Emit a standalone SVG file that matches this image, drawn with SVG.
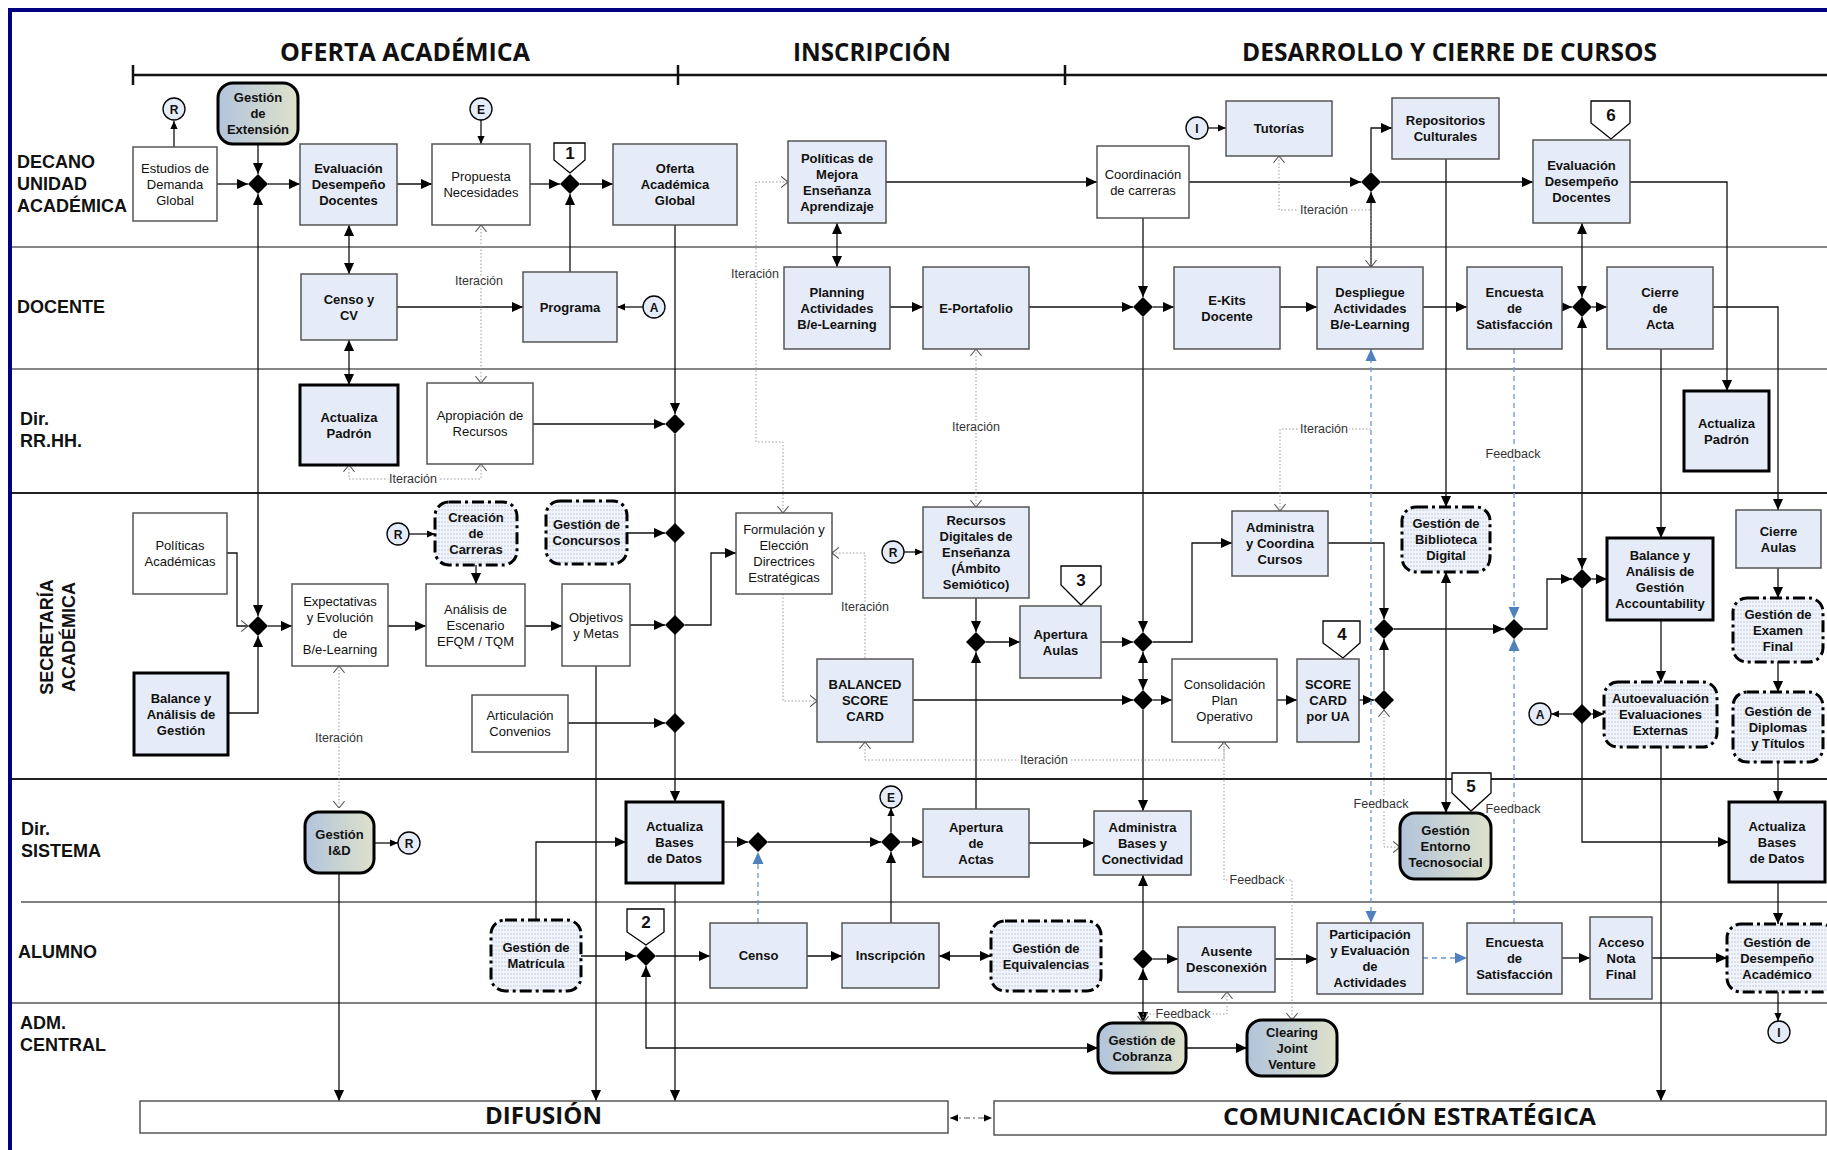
<svg xmlns="http://www.w3.org/2000/svg" width="1827" height="1150" viewBox="0 0 1827 1150">
<style>
.t{font-family:"Liberation Sans",Arial,sans-serif;font-size:13px;text-anchor:middle;fill:#111}
.b{font-weight:bold}
.lane{font-family:"Liberation Sans",Arial,sans-serif;font-size:18px;font-weight:bold;fill:#111}
.hd{font-family:"Open Sans","Liberation Sans",sans-serif;font-weight:bold;fill:#111}
.bx{fill:#E6ECF7;stroke:#555;stroke-width:1.5}
.wb{fill:#fff;stroke:#555;stroke-width:1.5}
.tk{fill:#E6ECF7;stroke:#000;stroke-width:3}
.dd{fill:url(#st);stroke:#000;stroke-width:3;stroke-dasharray:12 4 3 4}
.gr{fill:url(#gd);stroke:#000;stroke-width:3}
.ln{fill:none;stroke:#111;stroke-width:1.3}
.ae{marker-end:url(#ar)}
.as{marker-start:url(#ar)}
.se{marker-end:url(#sm)}
.bl{fill:none;stroke:#6D95D0;stroke-width:1.3;stroke-dasharray:5 4}
.be{marker-end:url(#ab)}
.bs{marker-start:url(#ab)}
.dt{fill:none;stroke:#9a9a9a;stroke-width:1;stroke-dasharray:1.5 2}
.oe{marker-end:url(#oc)}
.os{marker-start:url(#oc)}
.lb{font-family:"Liberation Sans",Arial,sans-serif;font-size:12.5px;text-anchor:middle;fill:#333;paint-order:stroke;stroke:#fff;stroke-width:4px}
.cir{fill:#E6ECF7;stroke:#000;stroke-width:1.3}
.ct{font-family:"Liberation Sans",Arial,sans-serif;font-size:12px;font-weight:bold;text-anchor:middle;fill:#111}
.co{fill:#fff;stroke:#000;stroke-width:1.3}
.cn{font-family:"Liberation Sans",Arial,sans-serif;font-size:17px;font-weight:bold;text-anchor:middle;fill:#111}
</style>
<defs>
<linearGradient id="gd" x1="0" y1="0" x2="1" y2="0">
<stop offset="0" stop-color="#B2C4DC"/>
<stop offset="1" stop-color="#DEE1CA"/>
</linearGradient>
<pattern id="st" width="6" height="4" patternUnits="userSpaceOnUse">
<rect width="6" height="4" fill="#F0F4FA"/>
<line x1="0" y1="2" x2="6" y2="2" stroke="#C3CEE2" stroke-width="1" stroke-dasharray="2 1"/>
</pattern>
<marker id="ar" viewBox="0 0 12 12" refX="12" refY="6" markerWidth="11" markerHeight="11" markerUnits="userSpaceOnUse" orient="auto-start-reverse">
<path d="M0,0.5 L12,6 L0,11.5 z" fill="#000"/>
</marker>
<marker id="sm" viewBox="0 0 10 10" refX="10" refY="5" markerWidth="8" markerHeight="8" markerUnits="userSpaceOnUse" orient="auto-start-reverse">
<path d="M0,0.5 L10,5 L0,9.5 z" fill="#000"/>
</marker>
<marker id="ab" viewBox="0 0 12 12" refX="12" refY="6" markerWidth="12" markerHeight="12" markerUnits="userSpaceOnUse" orient="auto-start-reverse">
<path d="M0,0.5 L12,6 L0,11.5 z" fill="#4F81BD"/>
</marker>
<marker id="oc" viewBox="0 0 8 14" refX="8" refY="7" markerWidth="7" markerHeight="12" markerUnits="userSpaceOnUse" orient="auto-start-reverse">
<path d="M0,0.5 L8,7 L0,13.5" fill="none" stroke="#555" stroke-width="1.2"/>
</marker>
<path id="dm" d="M0,-10 L10,0 L0,10 L-10,0 z" fill="#000"/>
</defs>
<rect width="1827" height="1150" fill="#fff"/>

<g id="frame">
<path d="M10,1150 V10 H1827" fill="none" stroke="#000080" stroke-width="4"/>
<path d="M12,247 H1827 M12,369 H1827" stroke="#111" stroke-width="1.2"/>
<path d="M12,493 H1827 M12,779 H1827" stroke="#222" stroke-width="2"/>
<path d="M21,902 H1827 M12,1003 H1827" stroke="#555" stroke-width="1.5"/>
<path d="M133,75 H1827 M133,65 V85 M678,65 V85 M1065,65 V85" stroke="#111" stroke-width="2.5" fill="none"/>
<text class="hd" x="280" y="61" font-size="25" textLength="250" lengthAdjust="spacingAndGlyphs">OFERTA ACADÉMICA</text>
<text class="hd" x="793" y="61" font-size="25" textLength="158" lengthAdjust="spacingAndGlyphs">INSCRIPCIÓN</text>
<text class="hd" x="1242" y="61" font-size="25" textLength="415" lengthAdjust="spacingAndGlyphs">DESARROLLO Y CIERRE DE CURSOS</text>
</g>

<g id="lanes">
<text class="lane" x="17" y="168">DECANO</text>
<text class="lane" x="17" y="190">UNIDAD</text>
<text class="lane" x="17" y="212">ACADÉMICA</text>
<text class="lane" x="17" y="313">DOCENTE</text>
<text class="lane" x="20" y="425">Dir.</text>
<text class="lane" x="20" y="447">RR.HH.</text>
<text class="lane" transform="translate(53,637) rotate(-90)" text-anchor="middle">SECRETARÍA</text>
<text class="lane" transform="translate(75,637) rotate(-90)" text-anchor="middle">ACADÉMICA</text>
<text class="lane" x="21" y="835">Dir.</text>
<text class="lane" x="21" y="857">SISTEMA</text>
<text class="lane" x="18" y="958">ALUMNO</text>
<text class="lane" x="20" y="1029">ADM.</text>
<text class="lane" x="20" y="1051">CENTRAL</text>
</g>

<g id="connectors">
<path class="ln se" d="M174,147 V121"/>
<path class="ln ae" d="M217,184 H248"/>
<path class="ln ae" d="M258,144 V174"/>
<path class="ln ae" d="M268,184 H300"/>
<path class="ln ae" d="M397,184 H432"/>
<path class="ln se" d="M481,120 V144"/>
<path class="ln ae" d="M530,184 H560"/>
<path class="ln ae" d="M580,184 H613"/>
<path class="ln ae" d="M570,272 V194"/>
<path class="ln ae as" d="M349,225 V274"/>
<path class="ln ae as" d="M349,340 V385"/>
<path class="ln ae" d="M397,307 H523"/>
<path class="ln se" d="M643,307 H617"/>
<path class="ln ae" d="M675,225 V414"/>
<path class="ln ae" d="M533,424 H665"/>
<path class="ln ae" d="M675,434 V802"/>
<path class="ln ae as" d="M837,223 V267"/>
<path class="ln ae" d="M886,182 H1097"/>
<path class="ln ae" d="M1189,182 H1361"/>
<path class="ln se" d="M1208,128 H1226"/>
<path class="ln ae" d="M1371,172 V128 H1392"/>
<path class="ln ae" d="M1381,182 H1533"/>
<path class="ln ae" d="M1371,267 V192"/>
<path class="ln ae" d="M1630,182 H1727 V391"/>
<path class="ln ae" d="M890,307 H923"/>
<path class="ln ae" d="M1029,307 H1133"/>
<path class="ln ae" d="M1143,218 V297"/>
<path class="ln ae" d="M1153,307 H1174"/>
<path class="ln ae" d="M1280,307 H1317"/>
<path class="ln ae" d="M1423,307 H1467"/>
<path class="ln ae" d="M1562,307 H1572"/>
<path class="ln ae" d="M1592,307 H1607"/>
<path class="ln ae as" d="M1582,223 V297"/>
<path class="ln ae as" d="M1582,317 V569"/>
<path class="ln ae" d="M1582,589 V842 H1729"/>
<path class="ln ae" d="M1661,349 V538"/>
<path class="ln ae" d="M1713,307 H1778 V510"/>
<path class="ln ae" d="M1446,159 V507"/>
<path class="ln ae as" d="M1446,572 V813"/>
<path class="ln ae" d="M1143,317 V632"/>
<path class="ln ae as" d="M258,194 V616"/>
<path class="ln oe" d="M227,553 H237 V626 H248"/>
<path class="ln ae" d="M228,713 H258 V636"/>
<path class="ln ae" d="M268,626 H292"/>
<path class="ln ae" d="M388,626 H426"/>
<path class="ln se" d="M409,534 H435"/>
<path class="ln ae" d="M476,565 V584"/>
<path class="ln ae" d="M627,533 H665"/>
<path class="ln ae" d="M525,626 H562"/>
<path class="ln ae" d="M630,625 H665"/>
<path class="ln ae" d="M685,625 H711 V553 H736"/>
<path class="ln ae" d="M568,723 H665"/>
<path class="ln ae" d="M596,666 V1101"/>
<path class="ln se" d="M904,552 H923"/>
<path class="ln ae" d="M976,598 V632"/>
<path class="ln ae" d="M986,642 H1020"/>
<path class="ln ae" d="M1101,642 H1133"/>
<path class="ln ae" d="M1153,642 H1192 V543 H1232"/>
<path class="ln ae as" d="M1143,652 V690"/>
<path class="ln ae" d="M913,700 H1133"/>
<path class="ln ae" d="M1153,700 H1172"/>
<path class="ln ae" d="M1277,700 H1297"/>
<path class="ln ae" d="M1359,700 H1374"/>
<path class="ln ae" d="M1328,543 H1384 V619"/>
<path class="ln ae" d="M1384,690 V639"/>
<path class="ln ae" d="M1394,629 H1504"/>
<path class="ln ae" d="M1524,629 H1547 V579 H1572"/>
<path class="ln ae" d="M1592,579 H1607"/>
<path class="ln ae" d="M1661,620 V682"/>
<path class="ln se" d="M1572,714 H1551"/>
<path class="ln ae" d="M1592,714 H1604"/>
<path class="ln ae" d="M1778,568 V598"/>
<path class="ln ae" d="M1778,662 V692"/>
<path class="ln ae" d="M1778,762 V802"/>
<path class="ln ae" d="M1778,882 V924"/>
<path class="ln se" d="M1778,992 V1021"/>
<path class="ln ae" d="M1661,747 V1101"/>
<path class="ln ae" d="M976,809 V652"/>
<path class="ln ae" d="M1143,710 V811"/>
<path class="ln se" d="M374,843 H398"/>
<path class="ln ae" d="M339,873 V1101"/>
<path class="ln ae" d="M675,883 V1101"/>
<path class="ln ae" d="M536,920 V842 H626"/>
<path class="ln ae" d="M723,842 H748"/>
<path class="ln ae" d="M768,842 H881"/>
<path class="ln se" d="M891,832 V808"/>
<path class="ln ae" d="M891,923 V852"/>
<path class="ln ae" d="M901,842 H923"/>
<path class="ln ae" d="M1029,843 H1094"/>
<path class="ln ae" d="M1143,949 V875"/>
<path class="ln ae as" d="M1143,969 V1023"/>
<path class="ln ae" d="M581,956 H636"/>
<path class="ln ae" d="M656,956 H710"/>
<path class="ln ae" d="M807,956 H842"/>
<path class="ln ae as" d="M939,956 H991"/>
<path class="ln ae" d="M1153,959 H1178"/>
<path class="ln ae" d="M1275,959 H1317"/>
<path class="ln ae" d="M1562,958 H1590"/>
<path class="ln ae" d="M1652,958 H1727"/>
<path class="ln ae as" d="M646,966 V1048 H1098"/>
<path class="ln ae" d="M1186,1048 H1247"/>
<path d="M950,1118 H992" fill="none" stroke="#555" stroke-width="1.2" stroke-dasharray="6 3 2 3" marker-start="url(#sm)" marker-end="url(#sm)"/>

<path class="bl be" d="M758,923 V852"/>
<path class="bl be bs" d="M1371,349 V923"/>
<path class="bl be" d="M1514,349 V619"/>
<path class="bl be" d="M1514,923 V639"/>
<path class="bl be" d="M1423,958 H1467"/>

<path class="dt oe os" d="M481,225 V383"/>
<path class="dt oe os" d="M349,465 V479 H481 V464"/>
<path class="dt oe os" d="M788,182 H756 V442 H783 V513"/>
<path class="dt oe os" d="M976,349 V507"/>
<path class="dt oe os" d="M1279,156 V210 H1371 V267"/>
<path class="dt os" d="M1280,511 V429 H1371"/>
<path class="dt os" d="M832,553 H865 V659"/>
<path class="dt oe" d="M783,594 V701 H817"/>
<path class="dt oe os" d="M865,742 V760 H1224 V742"/>
<path class="dt oe" d="M1224,742 V880 H1292 V1020"/>
<path class="dt oe os" d="M339,666 V808"/>
<path class="dt oe os" d="M1384,710 V847 H1400"/>
<path class="dt oe os" d="M1227,992 V1014 H1143 V1023"/>
</g>

<g id="gateways">
<use href="#dm" x="258" y="184"/>
<use href="#dm" x="570" y="184"/>
<use href="#dm" x="1371" y="182"/>
<use href="#dm" x="1143" y="307"/>
<use href="#dm" x="1582" y="307"/>
<use href="#dm" x="675" y="424"/>
<use href="#dm" x="258" y="626"/>
<use href="#dm" x="675" y="533"/>
<use href="#dm" x="675" y="625"/>
<use href="#dm" x="675" y="723"/>
<use href="#dm" x="976" y="642"/>
<use href="#dm" x="1143" y="642"/>
<use href="#dm" x="1143" y="700"/>
<use href="#dm" x="1384" y="629"/>
<use href="#dm" x="1384" y="700"/>
<use href="#dm" x="1514" y="629"/>
<use href="#dm" x="1582" y="579"/>
<use href="#dm" x="1582" y="714"/>
<use href="#dm" x="758" y="842"/>
<use href="#dm" x="891" y="842"/>
<use href="#dm" x="646" y="956"/>
<use href="#dm" x="1143" y="959"/>
</g>

<g id="n_estudios"><rect class="wb" x="133" y="147" width="84" height="74"/><text class="t" x="175" y="172.5">Estudios de</text><text class="t" x="175" y="188.5">Demanda</text><text class="t" x="175" y="204.5">Global</text></g>
<g id="n_gext"><rect class="gr" x="218" y="83" width="80" height="61" rx="15"/><text class="t b" x="258" y="102">Gestión</text><text class="t b" x="258" y="118">de</text><text class="t b" x="258" y="134">Extensión</text></g>
<g id="n_evald1"><rect class="bx" x="300" y="144" width="97" height="81"/><text class="t b" x="348.5" y="173">Evaluación</text><text class="t b" x="348.5" y="189">Desempeño</text><text class="t b" x="348.5" y="205">Docentes</text></g>
<g id="n_propuesta"><rect class="wb" x="432" y="144" width="98" height="81"/><text class="t" x="481" y="181">Propuesta</text><text class="t" x="481" y="197">Necesidades</text></g>
<g id="n_oferta"><rect class="bx" x="613" y="144" width="124" height="81"/><text class="t b" x="675" y="173">Oferta</text><text class="t b" x="675" y="189">Académica</text><text class="t b" x="675" y="205">Global</text></g>
<g id="n_polmejora"><rect class="bx" x="788" y="141" width="98" height="82"/><text class="t b" x="837" y="162.5">Políticas de</text><text class="t b" x="837" y="178.5">Mejora</text><text class="t b" x="837" y="194.5">Enseñanza</text><text class="t b" x="837" y="210.5">Aprendizaje</text></g>
<g id="n_coord"><rect class="wb" x="1097" y="146" width="92" height="72"/><text class="t" x="1143" y="178.5">Coordinación</text><text class="t" x="1143" y="194.5">de carreras</text></g>
<g id="n_tutorias"><rect class="bx" x="1226" y="101" width="106" height="55"/><text class="t b" x="1279" y="133">Tutorías</text></g>
<g id="n_repos"><rect class="bx" x="1392" y="98" width="107" height="61"/><text class="t b" x="1445.5" y="125">Repositorios</text><text class="t b" x="1445.5" y="141">Culturales</text></g>
<g id="n_evald2"><rect class="bx" x="1533" y="140" width="97" height="83"/><text class="t b" x="1581.5" y="170">Evaluación</text><text class="t b" x="1581.5" y="186">Desempeño</text><text class="t b" x="1581.5" y="202">Docentes</text></g>

<g id="n_censocv"><rect class="bx" x="301" y="274" width="96" height="66"/><text class="t b" x="349" y="303.5">Censo y</text><text class="t b" x="349" y="319.5">CV</text></g>
<g id="n_programa"><rect class="bx" x="523" y="272" width="94" height="70"/><text class="t b" x="570" y="311.5">Programa</text></g>
<g id="n_planning"><rect class="bx" x="784" y="267" width="106" height="82"/><text class="t b" x="837" y="296.5">Planning</text><text class="t b" x="837" y="312.5">Actividades</text><text class="t b" x="837" y="328.5">B/e-Learning</text></g>
<g id="n_eport"><rect class="bx" x="923" y="267" width="106" height="82"/><text class="t b" x="976" y="312.5">E-Portafolio</text></g>
<g id="n_ekits"><rect class="bx" x="1174" y="267" width="106" height="82"/><text class="t b" x="1227" y="304.5">E-Kits</text><text class="t b" x="1227" y="320.5">Docente</text></g>
<g id="n_despliegue"><rect class="bx" x="1317" y="267" width="106" height="82"/><text class="t b" x="1370" y="296.5">Despliegue</text><text class="t b" x="1370" y="312.5">Actividades</text><text class="t b" x="1370" y="328.5">B/e-Learning</text></g>
<g id="n_encuesta1"><rect class="bx" x="1467" y="267" width="95" height="82"/><text class="t b" x="1514.5" y="296.5">Encuesta</text><text class="t b" x="1514.5" y="312.5">de</text><text class="t b" x="1514.5" y="328.5">Satisfacción</text></g>
<g id="n_cierreacta"><rect class="bx" x="1607" y="267" width="106" height="82"/><text class="t b" x="1660" y="296.5">Cierre</text><text class="t b" x="1660" y="312.5">de</text><text class="t b" x="1660" y="328.5">Acta</text></g>

<g id="n_padron1"><rect class="tk" x="300" y="385" width="98" height="80"/><text class="t b" x="349" y="421.5">Actualiza</text><text class="t b" x="349" y="437.5">Padrón</text></g>
<g id="n_apropiacion"><rect class="wb" x="427" y="383" width="106" height="81"/><text class="t" x="480" y="420">Apropiación de</text><text class="t" x="480" y="436">Recursos</text></g>
<g id="n_padron2"><rect class="tk" x="1684" y="391" width="85" height="80"/><text class="t b" x="1726.5" y="427.5">Actualiza</text><text class="t b" x="1726.5" y="443.5">Padrón</text></g>

<g id="n_polacad"><rect class="wb" x="133" y="513" width="94" height="81"/><text class="t" x="180" y="550">Políticas</text><text class="t" x="180" y="566">Académicas</text></g>
<g id="n_balance1"><rect class="tk" x="134" y="673" width="94" height="82"/><text class="t b" x="181" y="702.5">Balance y</text><text class="t b" x="181" y="718.5">Análisis de</text><text class="t b" x="181" y="734.5">Gestión</text></g>
<g id="n_expect"><rect class="wb" x="292" y="584" width="96" height="82"/><text class="t" x="340" y="605.5">Expectativas</text><text class="t" x="340" y="621.5">y Evolución</text><text class="t" x="340" y="637.5">de</text><text class="t" x="340" y="653.5">B/e-Learning</text></g>
<g id="n_creacion"><rect class="dd" x="435" y="502" width="82" height="63" rx="14"/><text class="t b" x="476" y="522">Creación</text><text class="t b" x="476" y="538">de</text><text class="t b" x="476" y="554">Carreras</text></g>
<g id="n_analisis"><rect class="wb" x="426" y="584" width="99" height="82"/><text class="t" x="475.5" y="613.5">Análisis de</text><text class="t" x="475.5" y="629.5">Escenario</text><text class="t" x="475.5" y="645.5">EFQM / TQM</text></g>
<g id="n_concursos"><rect class="dd" x="546" y="501" width="81" height="63" rx="14"/><text class="t b" x="586.5" y="529">Gestión de</text><text class="t b" x="586.5" y="545">Concursos</text></g>
<g id="n_objetivos"><rect class="wb" x="562" y="584" width="68" height="82"/><text class="t" x="596" y="621.5">Objetivos</text><text class="t" x="596" y="637.5">y Metas</text></g>
<g id="n_articulacion"><rect class="wb" x="472" y="695" width="96" height="57"/><text class="t" x="520" y="720">Articulación</text><text class="t" x="520" y="736">Convenios</text></g>
<g id="n_formulacion"><rect class="wb" x="736" y="513" width="96" height="81"/><text class="t" x="784" y="534">Formulación y</text><text class="t" x="784" y="550">Elección</text><text class="t" x="784" y="566">Directrices</text><text class="t" x="784" y="582">Estratégicas</text></g>
<g id="n_bsc"><rect class="bx" x="817" y="659" width="96" height="83"/><text class="t b" x="865" y="689">BALANCED</text><text class="t b" x="865" y="705">SCORE</text><text class="t b" x="865" y="721">CARD</text></g>
<g id="n_recursos"><rect class="bx" x="923" y="507" width="106" height="91"/><text class="t b" x="976" y="525">Recursos</text><text class="t b" x="976" y="541">Digitales de</text><text class="t b" x="976" y="557">Enseñanza</text><text class="t b" x="976" y="573">(Ámbito</text><text class="t b" x="976" y="589">Semiótico)</text></g>
<g id="n_aperturaaulas"><rect class="bx" x="1020" y="606" width="81" height="72"/><text class="t b" x="1060.5" y="638.5">Apertura</text><text class="t b" x="1060.5" y="654.5">Aulas</text></g>
<g id="n_admcoord"><rect class="bx" x="1232" y="511" width="96" height="65"/><text class="t b" x="1280" y="532">Administra</text><text class="t b" x="1280" y="548">y Coordina</text><text class="t b" x="1280" y="564">Cursos</text></g>
<g id="n_consol"><rect class="wb" x="1172" y="659" width="105" height="83"/><text class="t" x="1224.5" y="689">Consolidación</text><text class="t" x="1224.5" y="705">Plan</text><text class="t" x="1224.5" y="721">Operativo</text></g>
<g id="n_scorecard"><rect class="bx" x="1297" y="659" width="62" height="83"/><text class="t b" x="1328" y="689">SCORE</text><text class="t b" x="1328" y="705">CARD</text><text class="t b" x="1328" y="721">por UA</text></g>
<g id="n_biblioteca"><rect class="dd" x="1402" y="507" width="88" height="65" rx="14"/><text class="t b" x="1446" y="528">Gestión de</text><text class="t b" x="1446" y="544">Biblioteca</text><text class="t b" x="1446" y="560">Digital</text></g>
<g id="n_balance2"><rect class="tk" x="1607" y="538" width="106" height="82"/><text class="t b" x="1660" y="559.5">Balance y</text><text class="t b" x="1660" y="575.5">Análisis de</text><text class="t b" x="1660" y="591.5">Gestión</text><text class="t b" x="1660" y="607.5">Accountability</text></g>
<g id="n_autoeval"><rect class="dd" x="1604" y="682" width="113" height="65" rx="14"/><text class="t b" x="1660.5" y="703">Autoevaluación</text><text class="t b" x="1660.5" y="719">Evaluaciones</text><text class="t b" x="1660.5" y="735">Externas</text></g>
<g id="n_cierreaulas"><rect class="bx" x="1736" y="510" width="85" height="58"/><text class="t b" x="1778.5" y="535.5">Cierre</text><text class="t b" x="1778.5" y="551.5">Aulas</text></g>
<g id="n_examen"><rect class="dd" x="1733" y="598" width="90" height="64" rx="14"/><text class="t b" x="1778" y="618.5">Gestión de</text><text class="t b" x="1778" y="634.5">Examen</text><text class="t b" x="1778" y="650.5">Final</text></g>
<g id="n_diplomas"><rect class="dd" x="1733" y="692" width="90" height="70" rx="14"/><text class="t b" x="1778" y="715.5">Gestión de</text><text class="t b" x="1778" y="731.5">Diplomas</text><text class="t b" x="1778" y="747.5">y Títulos</text></g>

<g id="n_gid"><rect class="gr" x="305" y="812" width="69" height="61" rx="14"/><text class="t b" x="339.5" y="839">Gestión</text><text class="t b" x="339.5" y="855">I&amp;D</text></g>
<g id="n_actbd1"><rect class="tk" x="626" y="802" width="97" height="81"/><text class="t b" x="674.5" y="831">Actualiza</text><text class="t b" x="674.5" y="847">Bases</text><text class="t b" x="674.5" y="863">de Datos</text></g>
<g id="n_aperturaactas"><rect class="bx" x="923" y="809" width="106" height="68"/><text class="t b" x="976" y="831.5">Apertura</text><text class="t b" x="976" y="847.5">de</text><text class="t b" x="976" y="863.5">Actas</text></g>
<g id="n_admbases"><rect class="bx" x="1094" y="811" width="97" height="64"/><text class="t b" x="1142.5" y="831.5">Administra</text><text class="t b" x="1142.5" y="847.5">Bases y</text><text class="t b" x="1142.5" y="863.5">Conectividad</text></g>
<g id="n_entorno"><rect class="gr" x="1400" y="813" width="91" height="66" rx="15"/><text class="t b" x="1445.5" y="834.5">Gestión</text><text class="t b" x="1445.5" y="850.5">Entorno</text><text class="t b" x="1445.5" y="866.5">Tecnosocial</text></g>
<g id="n_actbd2"><rect class="tk" x="1729" y="802" width="96" height="80"/><text class="t b" x="1777" y="830.5">Actualiza</text><text class="t b" x="1777" y="846.5">Bases</text><text class="t b" x="1777" y="862.5">de Datos</text></g>

<g id="n_matricula"><rect class="dd" x="491" y="920" width="90" height="71" rx="14"/><text class="t b" x="536" y="952">Gestión de</text><text class="t b" x="536" y="968">Matrícula</text></g>
<g id="n_censo"><rect class="bx" x="710" y="923" width="97" height="65"/><text class="t b" x="758.5" y="960">Censo</text></g>
<g id="n_inscripcion"><rect class="bx" x="842" y="923" width="97" height="65"/><text class="t b" x="890.5" y="960">Inscripción</text></g>
<g id="n_equiv"><rect class="dd" x="991" y="921" width="110" height="70" rx="14"/><text class="t b" x="1046" y="952.5">Gestión de</text><text class="t b" x="1046" y="968.5">Equivalencias</text></g>
<g id="n_ausente"><rect class="bx" x="1178" y="927" width="97" height="65"/><text class="t b" x="1226.5" y="956">Ausente</text><text class="t b" x="1226.5" y="972">Desconexión</text></g>
<g id="n_particip"><rect class="bx" x="1317" y="923" width="106" height="71"/><text class="t b" x="1370" y="939">Participación</text><text class="t b" x="1370" y="955">y Evaluación</text><text class="t b" x="1370" y="971">de</text><text class="t b" x="1370" y="987">Actividades</text></g>
<g id="n_encuesta2"><rect class="bx" x="1467" y="923" width="95" height="71"/><text class="t b" x="1514.5" y="947">Encuesta</text><text class="t b" x="1514.5" y="963">de</text><text class="t b" x="1514.5" y="979">Satisfacción</text></g>
<g id="n_acceso"><rect class="bx" x="1590" y="917" width="62" height="82"/><text class="t b" x="1621" y="946.5">Acceso</text><text class="t b" x="1621" y="962.5">Nota</text><text class="t b" x="1621" y="978.5">Final</text></g>
<g id="n_desempeno"><rect class="dd" x="1727" y="924" width="108" height="68" rx="14"/><text class="t b" x="1777" y="946.5">Gestión de</text><text class="t b" x="1777" y="962.5">Desempeño</text><text class="t b" x="1777" y="978.5">Académico</text></g>

<g id="n_cobranza"><rect class="gr" x="1098" y="1023" width="88" height="50" rx="15"/><text class="t b" x="1142" y="1044.5">Gestión de</text><text class="t b" x="1142" y="1060.5">Cobranza</text></g>
<g id="n_clearing"><rect class="gr" x="1247" y="1020" width="90" height="56" rx="15"/><text class="t b" x="1292" y="1036.5">Clearing</text><text class="t b" x="1292" y="1052.5">Joint</text><text class="t b" x="1292" y="1068.5">Venture</text></g>

<g id="n_difusion"><rect x="140" y="1101" width="808" height="32" fill="#fff" stroke="#555" stroke-width="1.5"/><text class="hd" x="485" y="1124" font-size="23" textLength="117" lengthAdjust="spacingAndGlyphs">DIFUSIÓN</text></g>
<g id="n_comunicacion"><rect x="994" y="1101" width="832" height="34" fill="#fff" stroke="#555" stroke-width="1.5"/><text class="hd" x="1223" y="1125" font-size="23" textLength="373" lengthAdjust="spacingAndGlyphs">COMUNICACIÓN ESTRATÉGICA</text></g>

<g id="markers_circles">
<g id="c_r1"><circle class="cir" cx="174" cy="109" r="11"/><text class="ct" x="174" y="113.5">R</text></g>
<g id="c_e1"><circle class="cir" cx="481" cy="109" r="11"/><text class="ct" x="481" y="113.5">E</text></g>
<g id="c_a1"><circle class="cir" cx="654" cy="307" r="11"/><text class="ct" x="654" y="311.5">A</text></g>
<g id="c_i1"><circle class="cir" cx="1197" cy="128" r="11"/><text class="ct" x="1197" y="132.5">I</text></g>
<g id="c_r2"><circle class="cir" cx="398" cy="534" r="11"/><text class="ct" x="398" y="538.5">R</text></g>
<g id="c_r3"><circle class="cir" cx="893" cy="552" r="11"/><text class="ct" x="893" y="556.5">R</text></g>
<g id="c_r4"><circle class="cir" cx="409" cy="843" r="11"/><text class="ct" x="409" y="847.5">R</text></g>
<g id="c_e2"><circle class="cir" cx="891" cy="797" r="11"/><text class="ct" x="891" y="801.5">E</text></g>
<g id="c_a2"><circle class="cir" cx="1540" cy="714" r="11"/><text class="ct" x="1540" y="718.5">A</text></g>
<g id="c_i2"><circle class="cir" cx="1779" cy="1032" r="11"/><text class="ct" x="1779" y="1036.5">I</text></g>
</g>

<g id="callouts">
<g id="k1"><polygon class="co" points="554,143 585,143 585,160 570,173 554,160"/><text class="cn" x="570" y="159">1</text></g>
<g id="k2"><polygon class="co" points="627,909 664,909 664,932 646,945 627,932"/><text class="cn" x="646" y="928">2</text></g>
<g id="k3"><polygon class="co" points="1061,566 1101,566 1101,585 1081,605 1061,585"/><text class="cn" x="1081" y="586">3</text></g>
<g id="k4"><polygon class="co" points="1323,621 1360,621 1360,643 1343,658 1323,643"/><text class="cn" x="1342" y="640">4</text></g>
<g id="k5"><polygon class="co" points="1452,773 1491,773 1491,793 1471,811 1452,793"/><text class="cn" x="1471" y="792">5</text></g>
<g id="k6"><polygon class="co" points="1591,101 1630,101 1630,123 1611,139 1591,123"/><text class="cn" x="1611" y="121">6</text></g>
</g>

<g id="labels">
<text class="lb" x="479" y="285">Iteración</text>
<text class="lb" x="413" y="483">Iteración</text>
<text class="lb" x="755" y="278">Iteración</text>
<text class="lb" x="976" y="431">Iteración</text>
<text class="lb" x="1324" y="214">Iteración</text>
<text class="lb" x="1324" y="433">Iteración</text>
<text class="lb" x="865" y="611">Iteración</text>
<text class="lb" x="1044" y="764">Iteración</text>
<text class="lb" x="339" y="742">Iteración</text>
<text class="lb" x="1513" y="458">Feedback</text>
<text class="lb" x="1381" y="808">Feedback</text>
<text class="lb" x="1513" y="813">Feedback</text>
<text class="lb" x="1257" y="884">Feedback</text>
<text class="lb" x="1183" y="1018">Feedback</text>
</g>
</svg>
